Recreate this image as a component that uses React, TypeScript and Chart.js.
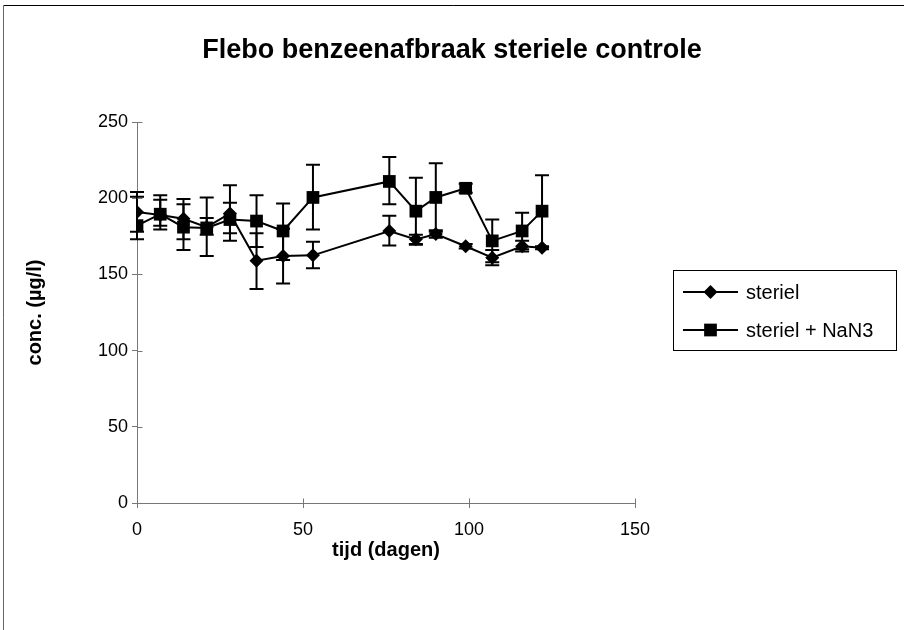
import React, { useEffect, useRef } from 'react';
import { Chart, registerables } from 'chart.js';

Chart.register(...registerables);

const FONT = '"Liberation Sans", Arial, sans-serif';

const titleText = 'Flebo benzeenafbraak steriele controle';
const xTitle = 'tijd (dagen)';
const yTitle = 'conc. (µg/l)';
const seriesLabels = ['steriel', 'steriel + NaN3'];

const days = [0, 7, 14, 21, 28, 36, 44, 53, 76, 84, 90, 99, 107, 116, 122];

const sterielValues = [191, 189, 186.5, 181, 190, 159, 162, 162.5, 178.5, 173, 176.5, 168.5, 161, 168.5, 167.5];
const sterielHigh = [204, 202, 199.5, 187, 208.5, 177, 180, 171.5, 188.5, 176, 179, 170, 166, 172, 168.5];
const sterielLow = [178, 182, 173, 176, 172, 140.5, 144, 154, 169, 170, 174, 167, 156, 165, 166.5];

const nan3Values = [182, 189.5, 181, 180.5, 186, 185, 178.5, 200.5, 211, 191.5, 200.5, 206.5, 172, 178.5, 191.5];
const nan3High = [201, 199, 196, 200.5, 197, 202, 196.5, 222, 227, 213.5, 223, 209.5, 186, 190.5, 215];
const nan3Low = [173, 179.5, 166, 162, 177, 168, 159.5, 179.5, 196, 169.5, 178, 203.5, 158, 166.5, 168];

const xMin = 0;
const xMax = 150;
const xStep = 50;
const yMin = 0;
const yMax = 250;
const yStep = 50;

const AXIS_COLOR = '#777';

const errorBarPlugin = {
  id: 'errorBars',
  beforeDatasetsDraw(chart: any) {
    const { ctx, scales } = chart;
    const xs = scales.x;
    const ys = scales.y;
    ctx.save();
    ctx.strokeStyle = '#000';
    ctx.lineWidth = 2;
    chart.data.datasets.forEach((ds: any) => {
      ds.data.forEach((pt: any, i: number) => {
        const px = xs.getPixelForValue(pt.x);
        const yh = ys.getPixelForValue(ds.errHigh[i]);
        const yl = ys.getPixelForValue(ds.errLow[i]);
        ctx.beginPath();
        ctx.moveTo(px, yh);
        ctx.lineTo(px, yl);
        ctx.moveTo(px - 7, yh);
        ctx.lineTo(px + 7, yh);
        ctx.moveTo(px - 7, yl);
        ctx.lineTo(px + 7, yl);
        ctx.stroke();
      });
    });
    ctx.restore();
  },
};

const crossTickPlugin = {
  id: 'crossTicks',
  beforeDatasetsDraw(chart: any) {
    const { ctx, scales } = chart;
    const xs = scales.x;
    const ys = scales.y;
    ctx.save();
    ctx.strokeStyle = AXIS_COLOR;
    ctx.lineWidth = 1;
    ctx.beginPath();
    ys.ticks.forEach((t: any) => {
      const py = Math.round(ys.getPixelForValue(t.value)) + 0.5;
      const left = Math.round(xs.left) + 0.5;
      ctx.moveTo(left, py);
      ctx.lineTo(left + 5, py);
    });
    xs.ticks.forEach((t: any) => {
      const px = Math.round(xs.getPixelForValue(t.value)) + 0.5;
      const bottom = Math.round(ys.bottom) + 0.5;
      ctx.moveTo(px, bottom);
      ctx.lineTo(px, bottom - 5);
    });
    ctx.stroke();
    ctx.restore();
  },
};

function drawMarker(ctx: CanvasRenderingContext2D, style: string, x: number, y: number, r: number) {
  ctx.beginPath();
  if (style === 'rectRot') {
    ctx.moveTo(x - r, y);
    ctx.lineTo(x, y - r);
    ctx.lineTo(x + r, y);
    ctx.lineTo(x, y + r);
    ctx.closePath();
  } else {
    const s = Math.SQRT1_2 * r;
    ctx.rect(x - s, y - s, 2 * s, 2 * s);
  }
  ctx.fill();
}

const legendPlugin = {
  id: 'boxLegend',
  afterDraw(chart: any) {
    const { ctx } = chart;
    const left = 673;
    const top = 270;
    const right = 896;
    const bottom = 350;
    const rowY = [292, 330];
    ctx.save();
    ctx.strokeStyle = '#000';
    ctx.lineWidth = 1;
    ctx.strokeRect(left + 0.5, top + 0.5, right - left, bottom - top);
    chart.data.datasets.forEach((ds: any, i: number) => {
      const y = rowY[i];
      ctx.strokeStyle = '#000';
      ctx.lineWidth = 2;
      ctx.beginPath();
      ctx.moveTo(683, y);
      ctx.lineTo(738, y);
      ctx.stroke();
      ctx.fillStyle = '#000';
      drawMarker(ctx, ds.pointStyle, 710.5, y, ds.pointRadius);
      ctx.font = `20px ${FONT}`;
      ctx.textBaseline = 'middle';
      ctx.textAlign = 'left';
      ctx.fillText(ds.label, 746, y + 1);
    });
    ctx.restore();
  },
};

const framePlugin = {
  id: 'frame',
  afterDraw(chart: any) {
    const { ctx, width, height } = chart;
    ctx.save();
    ctx.lineWidth = 1;
    ctx.strokeStyle = '#000';
    ctx.beginPath();
    ctx.moveTo(3.5, 5.5);
    ctx.lineTo(width, 5.5);
    ctx.stroke();
    ctx.strokeStyle = '#666';
    ctx.beginPath();
    ctx.moveTo(3.5, 5.5);
    ctx.lineTo(3.5, height);
    ctx.stroke();
    ctx.restore();
  },
};

export default function App() {
  const canvasRef = useRef<HTMLCanvasElement | null>(null);

  useEffect(() => {
    if (!canvasRef.current) return;
    const chart = new Chart(canvasRef.current, {
      type: 'line',
      data: {
        datasets: [
          {
            label: seriesLabels[0],
            data: days.map((d, i) => ({ x: d, y: sterielValues[i] })),
            errHigh: sterielHigh,
            errLow: sterielLow,
            borderColor: '#000',
            borderWidth: 2,
            backgroundColor: '#000',
            pointStyle: 'rectRot',
            pointRadius: 7,
            pointBorderWidth: 0,
            pointBackgroundColor: '#000',
            tension: 0,
          } as any,
          {
            label: seriesLabels[1],
            data: days.map((d, i) => ({ x: d, y: nan3Values[i] })),
            errHigh: nan3High,
            errLow: nan3Low,
            borderColor: '#000',
            borderWidth: 2,
            backgroundColor: '#000',
            pointStyle: 'rect',
            pointRadius: 9,
            pointBorderWidth: 0,
            pointBackgroundColor: '#000',
            tension: 0,
          } as any,
        ],
      },
      options: {
        responsive: false,
        animation: false,
        events: [],
        layout: { padding: { left: 0, top: 0, right: 0, bottom: 0 } },
        plugins: {
          legend: { display: false },
          tooltip: { enabled: false },
          title: {
            display: true,
            text: titleText,
            color: '#000',
            font: { size: 27, weight: 'bold', family: FONT, lineHeight: 1.2 },
            padding: { top: 34, bottom: 55.6 },
          },
        },
        scales: {
          x: {
            type: 'linear',
            min: xMin,
            max: xMax,
            ticks: {
              stepSize: xStep,
              color: '#000',
              font: { size: 18, family: FONT },
              padding: 11,
              maxRotation: 0,
            },
            grid: { drawOnChartArea: false, tickLength: 5, color: AXIS_COLOR },
            border: { color: AXIS_COLOR },
            title: {
              display: true,
              text: xTitle,
              color: '#000',
              font: { size: 20, weight: 'bold', family: FONT, lineHeight: 1.2 },
              padding: { top: 0, bottom: 68 },
            },
            afterFit: (s: any) => {
              s.height = 127;
            },
          },
          y: {
            type: 'linear',
            min: yMin,
            max: yMax,
            ticks: {
              stepSize: yStep,
              color: '#000',
              font: { size: 18, family: FONT },
              padding: 4,
            },
            grid: { drawOnChartArea: false, tickLength: 5, color: AXIS_COLOR },
            border: { color: AXIS_COLOR },
            title: {
              display: true,
              text: yTitle,
              color: '#000',
              font: { size: 20, weight: 'bold', family: FONT, lineHeight: 1.2 },
              padding: { top: 23, bottom: 0 },
            },
            afterFit: (s: any) => {
              s.width = 137;
            },
          },
          legendSpace: {
            type: 'linear',
            position: 'right',
            display: true,
            grid: { display: false, drawTicks: false },
            border: { display: false },
            ticks: { display: false },
            afterFit: (s: any) => {
              s.width = 269;
            },
          },
        },
      } as any,
      plugins: [errorBarPlugin, crossTickPlugin, legendPlugin, framePlugin],
    });
    return () => {
      chart.destroy();
    };
  }, []);

  return (
    <div style={{ position: 'absolute', left: 0, top: 0, width: 904, height: 630, background: '#fff' }}>
      <canvas ref={canvasRef} width={904} height={630} />
    </div>
  );
}
